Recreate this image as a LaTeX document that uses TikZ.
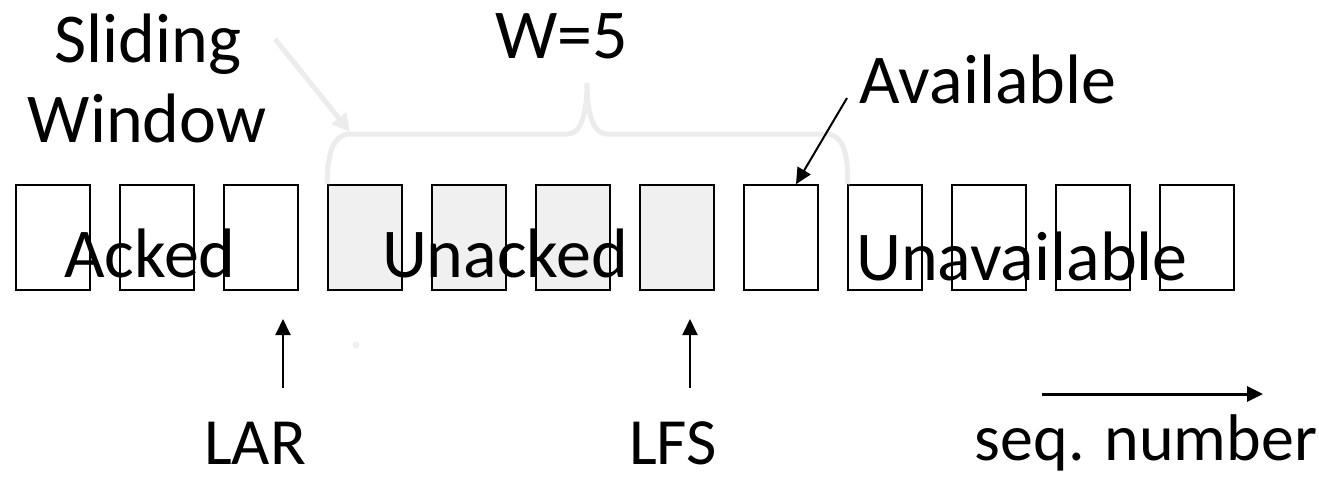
\documentclass[tikz,border=0pt]{standalone}
\usepackage{fontspec}
\setmainfont{Carlito}
\usetikzlibrary{arrows.meta}
\begin{document}
\begin{tikzpicture}[x=0.5pt,y=-0.5pt,
    pkt/.style={draw,line width=0.8pt,minimum width=37pt,minimum height=52.5pt,inner sep=0pt},
    lbl/.style={font=\fontsize{35}{40}\selectfont,inner sep=0pt,anchor=base},
    lblb/.style={font=\fontsize{33}{38}\selectfont,inner sep=0pt,anchor=base},
    arr/.style={line width=1pt,-{Triangle[length=8pt,width=7.5pt]}},
    winline/.style={gray!15,line width=2.5pt}]
    \useasboundingbox (0,0) rectangle (1319,479);
    \foreach \i in {1,...,12}
        \node[pkt] (b\i) at ({53+104*(\i-1)},237.5) {};
    \foreach \i in {4,...,7}
        \node[pkt,fill=gray!12] at (b\i) {};
    \draw[winline] (b4.north west) .. controls (327,150) and (335,134) .. (350,134) -- (568,134)
        .. controls (582,134) and (587,110) .. (587,83) .. controls (587,110) and (592,134) .. (607,134)
        -- (826,134) .. controls (841,134) and (849,150) .. (b9.north west);
    \node[lbl] (slide) at (148,62) {Sliding};
    \node[lbl] (window) at (147,142) {Window};
    \node[lbl] (w) at (562,58) {W=5};
    \node[lbl] (avail) at (988,103) {Available};
    \node[lbl] (acked) at (150,277) {Acked};
    \node[lbl] (unacked) at (505,277) {Unacked};
    \node[lbl] (unavail) at (1022,280) {Unavailable};
    \node[lblb] (lar) at (255,464) {LAR};
    \node[lblb] (lfs) at (673,464) {LFS};
    \node[lblb] (seq) at (1146,460) {seq. number};
    \coordinate (swfrom) at (275,39);
    \coordinate (swto) at (350,132);
    \draw[winline,-{Triangle[length=9pt,width=9pt]}] (swfrom) -- (swto);
    \coordinate (avfrom) at (847,98);
    \draw[arr] (avfrom) -- ([xshift=7.5pt]b8.north);
    \coordinate (larfrom) at (283,388);
    \coordinate (larto) at (283,319);
    \draw[arr] (larfrom) -- (larto);
    \coordinate (lfsfrom) at (690,388);
    \coordinate (lfsto) at (690,319);
    \draw[arr] (lfsfrom) -- (lfsto);
    \coordinate (seqfrom) at (1042,394);
    \coordinate (seqto) at (1263,394);
    \draw[arr,line width=1.5pt] (seqfrom) -- (seqto);
    \fill[gray!12] (356,345) circle (3.5);
\end{tikzpicture}
\end{document}
